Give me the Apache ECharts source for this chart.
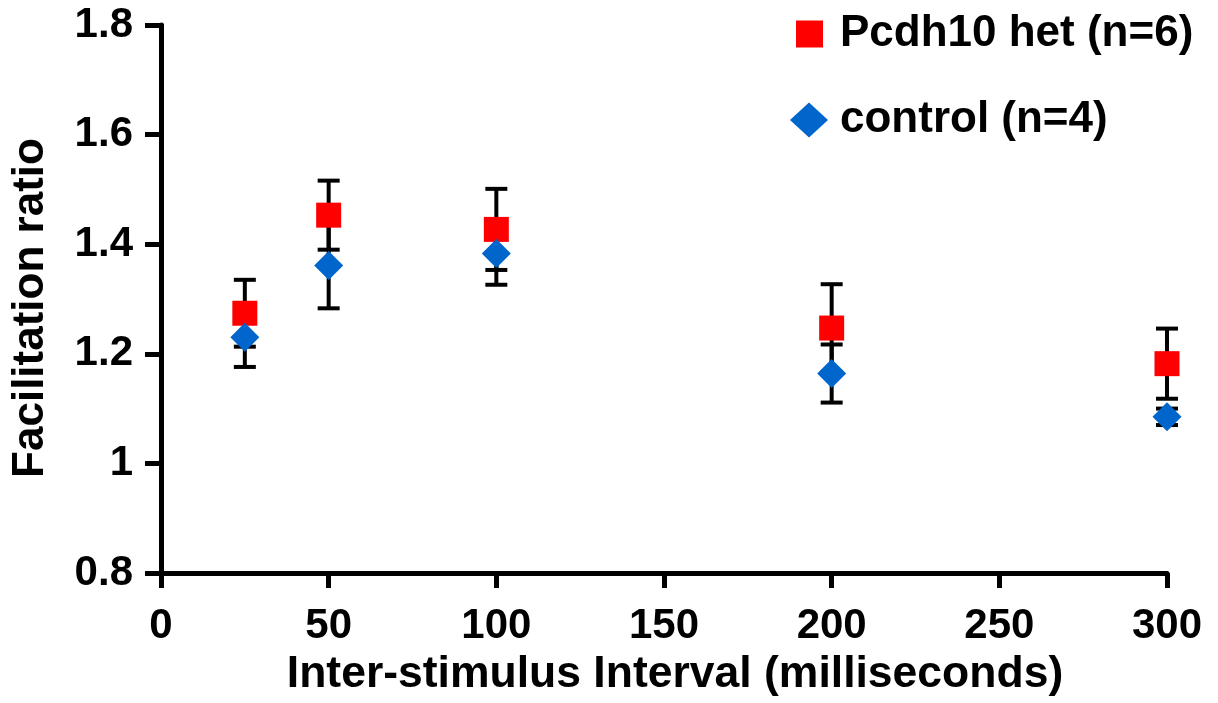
<!DOCTYPE html>
<html>
<head>
<meta charset="utf-8">
<style>
  html, body { margin: 0; padding: 0; background: #fff; }
  #chart { width: 1218px; height: 703px; }
</style>
<script src="https://cdn.jsdelivr.net/npm/echarts@6/dist/echarts.min.js"></script>
</head>
<body>
<div id="chart"></div>
<script>
// Paired-pulse facilitation: mean ratio ± SEM at each inter-stimulus interval
const intervals = [25, 50, 100, 200, 300];
const hetMean  = [1.274, 1.453, 1.427, 1.247, 1.182];
const hetErr   = [0.061, 0.063, 0.074, 0.080, 0.064];
const ctrlMean = [1.230, 1.361, 1.383, 1.164, 1.085];
const ctrlErr  = [0.054, 0.078, 0.057, 0.053, 0.015];

const hetName = 'Pcdh10 het (n=6)';
const ctrlName = 'control (n=4)';
const xTitle = 'Inter-stimulus Interval (milliseconds)';
const yTitle = 'Facilitation ratio';

const FONT = '"Liberation Sans", Arial, Helvetica, sans-serif';

const pts = (means) => intervals.map((x, i) => [x, means[i]]);
const errRows = (means, errs) => intervals.map((x, i) => [x, means[i] - errs[i], means[i] + errs[i]]);

// vertical whisker with a cap at each end
function renderErr(params, api) {
  const x = api.value(0);
  const lo = api.coord([x, api.value(1)]);
  const hi = api.coord([x, api.value(2)]);
  const half = 11;
  const style = { stroke: '#000', lineWidth: 4 };
  return {
    type: 'group',
    children: [
      { type: 'line', shape: { x1: lo[0], y1: lo[1], x2: hi[0], y2: hi[1] }, style },
      { type: 'line', shape: { x1: hi[0] - half, y1: hi[1], x2: hi[0] + half, y2: hi[1] }, style },
      { type: 'line', shape: { x1: lo[0] - half, y1: lo[1], x2: lo[0] + half, y2: lo[1] }, style }
    ]
  };
}

const chart = echarts.init(document.getElementById('chart'), null, { renderer: 'canvas' });

const legendText = { fontFamily: FONT, fontWeight: 'bold', fontSize: 44, color: '#000' };

chart.setOption({
  animation: false,
  backgroundColor: '#fff',
  grid: { left: 161, top: 25, width: 1006, height: 548, containLabel: false },
  legend: [
    {
      data: [hetName], orient: 'vertical', left: 796, top: 12, padding: 0,
      itemWidth: 27, itemHeight: 27, selectedMode: false,
      textStyle: Object.assign({ padding: [0, 0, 0, 12] }, legendText)
    },
    {
      data: [ctrlName], orient: 'vertical', left: 790, top: 98, padding: 0,
      itemWidth: 38, itemHeight: 35, selectedMode: false,
      textStyle: Object.assign({ padding: [0, 0, 0, 7] }, legendText)
    }
  ],
  xAxis: {
    type: 'value', min: 0, max: 300, interval: 50,
    name: xTitle, nameLocation: 'middle', nameGap: 74,
    nameTextStyle: { fontFamily: FONT, fontWeight: 'bold', fontSize: 44.5, color: '#000', padding: [0, 0, 0, 22] },
    axisLine: { lineStyle: { color: '#000', width: 5 } },
    axisTick: { length: 15, lineStyle: { color: '#000', width: 5 } },
    axisLabel: { margin: 32, fontFamily: FONT, fontWeight: 'bold', fontSize: 42, color: '#000' },
    splitLine: { show: false }
  },
  yAxis: {
    type: 'value', min: 0.8, max: 1.8, interval: 0.2,
    name: yTitle, nameLocation: 'middle', nameGap: 108, nameRotate: 90,
    nameTextStyle: { fontFamily: FONT, fontWeight: 'bold', fontSize: 44, color: '#000', padding: [0, 18, 0, 0] },
    axisLine: { lineStyle: { color: '#000', width: 5 } },
    axisTick: { length: 16, lineStyle: { color: '#000', width: 5 } },
    axisLabel: {
      margin: 28, fontFamily: FONT, fontWeight: 'bold', fontSize: 42, color: '#000',
      formatter: (v) => String(Math.round(v * 10) / 10)
    },
    splitLine: { show: false }
  },
  series: [
    {
      type: 'custom', name: 'het-err', renderItem: renderErr, z: 1,
      data: errRows(hetMean, hetErr), encode: { x: 0, y: [1, 2] }, silent: true
    },
    {
      type: 'custom', name: 'ctrl-err', renderItem: renderErr, z: 1,
      data: errRows(ctrlMean, ctrlErr), encode: { x: 0, y: [1, 2] }, silent: true
    },
    {
      type: 'scatter', name: hetName, data: pts(hetMean), z: 3,
      symbol: 'rect', symbolSize: 25, itemStyle: { color: '#ff0000', opacity: 1 }
    },
    {
      type: 'scatter', name: ctrlName, data: pts(ctrlMean), z: 4,
      symbol: 'diamond', symbolSize: 29, itemStyle: { color: '#0066cc', opacity: 1 }
    }
  ]
});
</script>
</body>
</html>
